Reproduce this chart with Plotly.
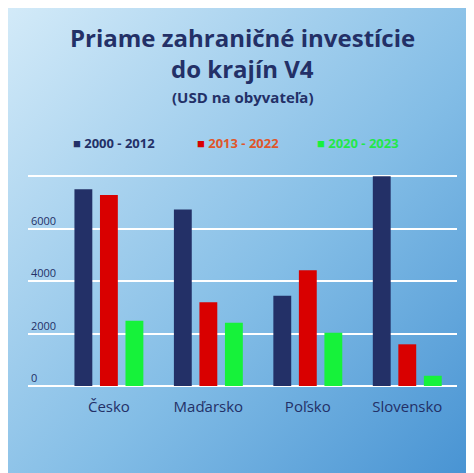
import plotly.graph_objects as go

krajiny = ["Česko", "Maďarsko", "Poľsko", "Slovensko"]
obdobie_2000_2012 = [7500, 6730, 3440, 8000]
obdobie_2013_2022 = [7280, 3190, 4410, 1590]
obdobie_2020_2023 = [2490, 2410, 2030, 390]
y_ticks = [0, 2000, 4000, 6000, 8000]

navy = "#233067"
farby = ["#233067", "#d90000", "#16f23a"]
nazvy = ["2000 - 2012", "2013 - 2022", "2020 - 2023"]
farby_textu = ["#233067", "#e0562a", "#22e84a"]

fig = go.Figure()
for nazov, hodnoty, farba in zip(nazvy, [obdobie_2000_2012, obdobie_2013_2022, obdobie_2020_2023], farby):
    fig.add_trace(go.Bar(x=krajiny, y=hodnoty, name=nazov, marker_color=farba, marker_line_width=0))

# gradient pozadie cez svg
svg = ("data:image/svg+xml;utf8,<svg xmlns='http://www.w3.org/2000/svg' width='100' height='100' preserveAspectRatio='none'>"
       "<defs><linearGradient id='g' x1='0' y1='0' x2='1' y2='1'>"
       "<stop offset='0' stop-color='%23d6ecf9'/><stop offset='0.55' stop-color='%2383bde6'/>"
       "<stop offset='1' stop-color='%233f8dd0'/></linearGradient></defs>"
       "<rect width='100' height='100' fill='url(%23g)'/></svg>")
fig.add_layout_image(source=svg, xref="paper", yref="paper", x=-0.05, y=1.85, sizex=1.15, sizey=2.4,
                     sizing="stretch", layer="below", xanchor="left", yanchor="top")

def ann(text, y, size, color=navy):
    fig.add_annotation(text=f"<b>{text}</b>", x=0.5, y=y, xref="paper", yref="paper",
                       showarrow=False, yanchor="middle", font=dict(size=size, color=color, family="Open Sans"))

ann("Priame zahraničné investície", 1.619, 24)
ann("do krajín V4", 1.479, 24)
ann("(USD na obyvateľa)", 1.344, 15)

xs = [0.2, 0.49, 0.77]
for x, nazov, farba, ftext in zip(xs, nazvy, farby, farby_textu):
    fig.add_annotation(text=f"<span style='color:{farba}'>■</span> <b>{nazov}</b>", x=x, y=1.181,
                       xref="paper", yref="paper", showarrow=False, xanchor="center",
                       font=dict(size=13, color=ftext, family="Open Sans"))

fig.update_layout(
    width=474, height=473,
    margin=dict(l=20, r=25, t=163, b=95),
    paper_bgcolor="#8cc3e8", plot_bgcolor="rgba(0,0,0,0)",
    showlegend=False, bargap=0.23, bargroupgap=0.3,
    font=dict(family="Open Sans", color=navy),
    xaxis=dict(tickfont=dict(size=15, color=navy), ticklabelstandoff=10, showgrid=False),
    yaxis=dict(range=[0, 8200], tickvals=y_ticks, gridcolor="white", gridwidth=2,
               ticklabelposition="inside top", tickfont=dict(size=11, color=navy),
               zeroline=True, zerolinecolor="white", zerolinewidth=2),
)

fig.write_html("out.html")
